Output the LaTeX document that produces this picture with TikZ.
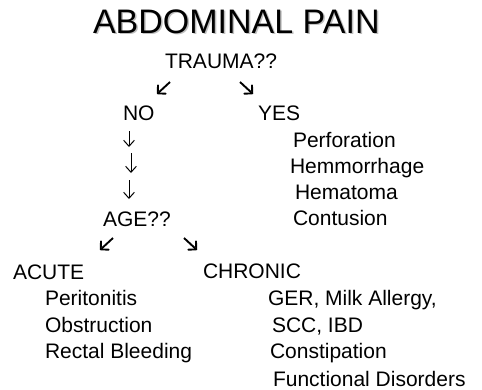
\documentclass[tikz,border=0pt]{standalone}
\usepackage{fontspec}
\setmainfont{Liberation Sans}
\usetikzlibrary{arrows.meta}
\begin{document}
\begin{tikzpicture}[x=1pt,y=-1pt,
  txt/.style={anchor=base west,inner sep=0pt,outer sep=0pt,font=\fontsize{21}{24}\selectfont},
  ttl/.style={anchor=base west,inner sep=0pt,outer sep=0pt,font=\fontsize{34}{38}\selectfont},
  diag/.style={line width=1.9pt,line cap=butt,-{Straight Barb[angle=90:8pt,line width=1.9pt,round]}},
  down/.style={line width=1pt,-{Straight Barb[angle=84:8pt,line width=1pt]}}]
\useasboundingbox (0,0) rectangle (482,389);
% title with soft shadow
\node[ttl,text=black!25] (titleshadow) at (94.5,34.5) {ABDOMINAL PAIN};
\node[ttl] (title) at (93,33) {ABDOMINAL PAIN};
\node[txt] (trauma) at (165,68) {TRAUMA??};
\coordinate (a1s) at (170,82); \coordinate (a1e) at (157,94);
\coordinate (a2s) at (240,82); \coordinate (a2e) at (253,94);
\draw[diag] (a1s) -- (a1e);
\draw[diag] (a2s) -- (a2e);
\node[txt] (no) at (123,120) {NO};
\node[txt] (yes) at (258,120) {YES};
\node[txt] (perf) at (293,147) {Perforation};
\node[txt] (hemo) at (290,173) {Hemmorrhage};
\node[txt] (hema) at (295,199) {Hematoma};
\node[txt] (cont) at (293,225) {Contusion};
\coordinate (d1s) at (129,131); \coordinate (d1e) at (129,147);
\coordinate (d2s) at (131,153); \coordinate (d2e) at (131,173);
\coordinate (d3s) at (129,180); \coordinate (d3e) at (129,199);
\draw[down] (d1s) -- (d1e);
\draw[down] (d2s) -- (d2e);
\draw[down] (d3s) -- (d3e);
\node[txt] (age) at (103,226) {AGE??};
\coordinate (b1s) at (113,238); \coordinate (b1e) at (100,250);
\coordinate (b2s) at (184,238); \coordinate (b2e) at (197,250);
\draw[diag] (b1s) -- (b1e);
\draw[diag] (b2s) -- (b2e);
\node[txt] (acute) at (13,279) {ACUTE};
\node[txt] (chronic) at (203,278) {CHRONIC};
\node[txt] (peri) at (45,305) {Peritonitis};
\node[txt] (obst) at (45,332) {Obstruction};
\node[txt] (rect) at (45,358) {Rectal Bleeding};
\node[txt] (ger) at (268,305) {GER, Milk Allergy,};
\node[txt] (scc) at (272,332) {SCC, IBD};
\node[txt] (const) at (270,358) {Constipation};
\node[txt] (func) at (273,386) {Functional Disorders};
\end{tikzpicture}
\end{document}
